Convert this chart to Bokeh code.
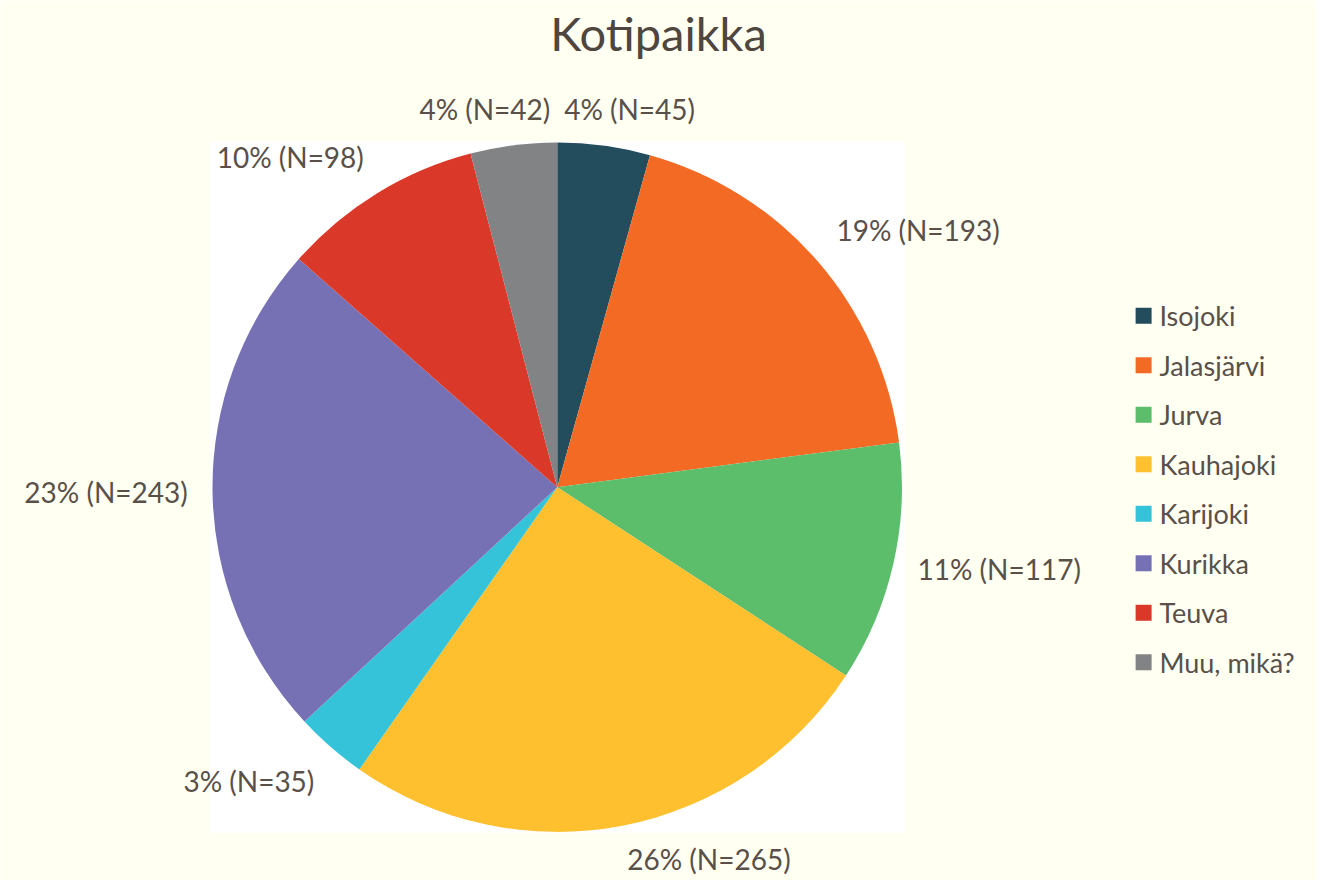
import math
from bokeh.plotting import figure
from bokeh.models import Range1d, ColumnDataSource
from bokeh.core.properties import value
from bokeh.embed import file_html
from bokeh.resources import INLINE

# ---- data ----
title_text = "Kotipaikka"
categories = ["Isojoki", "Jalasjärvi", "Jurva", "Kauhajoki", "Karijoki", "Kurikka", "Teuva", "Muu, mikä?"]
counts = [45, 193, 117, 265, 35, 243, 98, 42]
percents = [4, 19, 11, 26, 3, 23, 10, 4]
colors = ["#234D5D", "#F26A23", "#5CBD6B", "#FEC02E", "#35C3D9", "#7670B4", "#DA3829", "#828384"]

# ---- layout (designed on a 1332x896 canvas, then mapped to the figure) ----
W, H = 1316, 880
KX, KY = W / 1332.0, H / 896.0
def X(x):
    return x * KX
def Y(y):
    return H - y * KY

BG = "#FFFFF2"
TXT = "#595049"
FONT = "Lato"
CX, CY = 563.5, 495.5      # pie centre on the design canvas (y down)
R = 351.0
LAB_R = 374.0

p = figure(width=W, height=H, x_range=Range1d(0, W), y_range=Range1d(0, H),
           output_backend="svg", toolbar_location=None, min_border=0,
           background_fill_color=BG, border_fill_color=BG)
p.axis.visible = False
p.grid.visible = False
p.outline_line_color = None

# white plot area behind the pie
p.rect(x=[X(CX)], y=[Y(CY)], width=(2 * R + 2) * KX, height=(2 * R + 2) * KY,
       fill_color="white", line_color=None)

total = float(sum(counts))
starts, ends, mids = [], [], []
acc = 0.0
for c in counts:
    f0 = acc / total
    acc += c
    f1 = acc / total
    starts.append(math.pi / 2 - f0 * 2 * math.pi)
    ends.append(math.pi / 2 - f1 * 2 * math.pi)
    mids.append((f0 + f1) / 2 * 2 * math.pi)   # clockwise from top

src = ColumnDataSource(dict(x=[X(CX)] * len(counts), y=[Y(CY)] * len(counts),
                            start=starts, end=ends, color=colors, name=categories))
p.wedge(x="x", y="y", radius=R * KY, radius_units="screen", start_angle="start", end_angle="end",
        direction="clock", fill_color="color", line_color=None, source=src)

# data labels
for ang, n, pc in zip(mids, counts, percents):
    s, c = math.sin(ang), math.cos(ang)
    x = CX + s * LAB_R
    y = CY - c * LAB_R
    if c > 0.9:                      # near the top: hug the vertical centre line
        x = CX + (7 if s > 0 else -7)
        y = CY - c * (LAB_R - 3)
        align = "left" if s > 0 else "right"
    else:
        align = "left" if s > 0.15 else ("right" if s < -0.15 else "center")
    base = "bottom" if c > 0.4 else ("top" if c < -0.4 else "middle")
    if c < -0.9:
        y = CY - c * (LAB_R - 6)
    p.text(x=[X(x)], y=[Y(y)], text=[f"{pc}% (N={n})"], text_align=align, text_baseline=base,
           text_font=value(FONT), text_font_size="28px", text_color=TXT)

# title
p.text(x=[X(666)], y=[Y(33)], text=[title_text], text_align="center", text_baseline="middle",
       text_font=value(FONT), text_font_size="47px", text_color="#4F4640")

# legend (manual)
LEG_X, LEG_Y0, LEG_DY, SQ = 1149, 321, 50.4, 16
leg_y = [Y(LEG_Y0 + i * LEG_DY) for i in range(len(categories))]
p.rect(x=[X(LEG_X + SQ / 2)] * len(categories), y=leg_y, width=SQ, height=SQ,
       fill_color=colors, line_color=None)
p.text(x=[X(LEG_X + 24)] * len(categories), y=leg_y, text=categories, text_align="left",
       text_baseline="middle", text_font=value(FONT), text_font_size="27px", text_color=TXT)

open("out.html", "w").write(file_html(p, INLINE))
